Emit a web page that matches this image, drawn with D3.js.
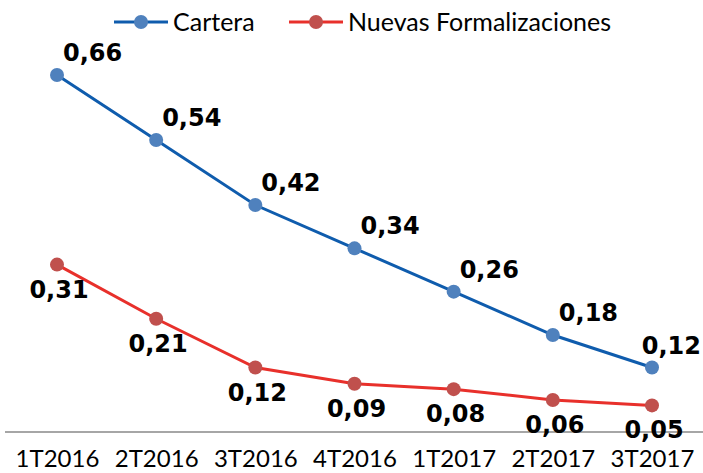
<!DOCTYPE html>
<html><head><meta charset="utf-8">
<script src="https://cdn.jsdelivr.net/npm/d3@7"></script>
<style>html,body{margin:0;padding:0;background:#fff;}svg{display:block;}</style>
</head><body>
<svg id="chart" width="703" height="473"></svg>
<script>
const categories = ["1T2016","2T2016","3T2016","4T2016","1T2017","2T2017","3T2017"];
const cartera = [0.66,0.54,0.42,0.34,0.26,0.18,0.12];
const nuevas = [0.31,0.21,0.12,0.09,0.08,0.06,0.05];
const seriesNames = ["Cartera","Nuevas Formalizaciones"];

const W = 703, H = 473;
const svg = d3.select("#chart");
const x = d3.scalePoint().domain(categories).range([57, 652]);
const y = d3.scaleLinear().domain([0, 0.66]).range([432.5, 75]);
const fmt = v => d3.format(".2f")(v).replace(".", ",");

// axis line
svg.append("line").attr("x1", 5).attr("x2", W).attr("y1", 432).attr("y2", 432)
  .attr("stroke", "#a6a6a6").attr("stroke-width", 2);

// x axis labels
const xAxis = d3.axisBottom(x).tickSize(0).tickPadding(0);
const gx = svg.append("g").attr("transform", "translate(0,467)").call(xAxis);
gx.select(".domain").remove();
gx.selectAll("text").attr("font-family", "Lato, sans-serif").attr("font-size", 24)
  .attr("fill", "#000").attr("dy", "0").attr("y", 0);

const series = [
  {name: seriesNames[0], values: cartera, line: "#0f5cad", marker: "#4f81bd", dx: 6, dy: -14, anchor: "start"},
  {name: seriesNames[1], values: nuevas, line: "#e8302b", marker: "#c0504d", dx: 2, dy: 33, anchor: "middle"}
];

const lineGen = d3.line().x((d, i) => x(categories[i])).y(d => y(d));

series.forEach(s => {
  svg.append("path").datum(s.values).attr("d", lineGen).attr("fill", "none")
    .attr("stroke", s.line).attr("stroke-width", 3);
  svg.selectAll(null).data(s.values).enter().append("circle")
    .attr("cx", (d, i) => x(categories[i])).attr("cy", d => y(d)).attr("r", 7)
    .attr("fill", s.marker);
  const t = svg.selectAll(null).data(s.values).enter().append("text")
    .attr("font-family", "DejaVu Sans, sans-serif").attr("font-weight", "bold").attr("font-size", 24)
    .attr("fill", "#000").attr("text-anchor", "start")
    .attr("y", d => y(d) + s.dy)
    .text(d => fmt(d));
  t.each(function(d, i) {
    const w = this.getComputedTextLength();
    let xs = s.anchor === "start" ? x(categories[i]) + s.dx : x(categories[i]) + s.dx - w / 2;
    xs = Math.min(xs, W - w - 2);
    d3.select(this).attr("x", xs);
  });
});

// legend
const legend = svg.append("g");
const legX = [114, 289];
series.forEach((s, i) => {
  const g = legend.append("g").attr("transform", `translate(${legX[i]},22)`);
  g.append("line").attr("x1", 0).attr("x2", 54).attr("stroke", s.line).attr("stroke-width", 3);
  g.append("circle").attr("cx", 27).attr("r", 7).attr("fill", s.marker);
  g.append("text").attr("x", 59).attr("y", 9).attr("font-family", "Lato, sans-serif")
    .attr("font-size", 25).attr("fill", "#000").text(s.name);
});
</script>
</body></html>
